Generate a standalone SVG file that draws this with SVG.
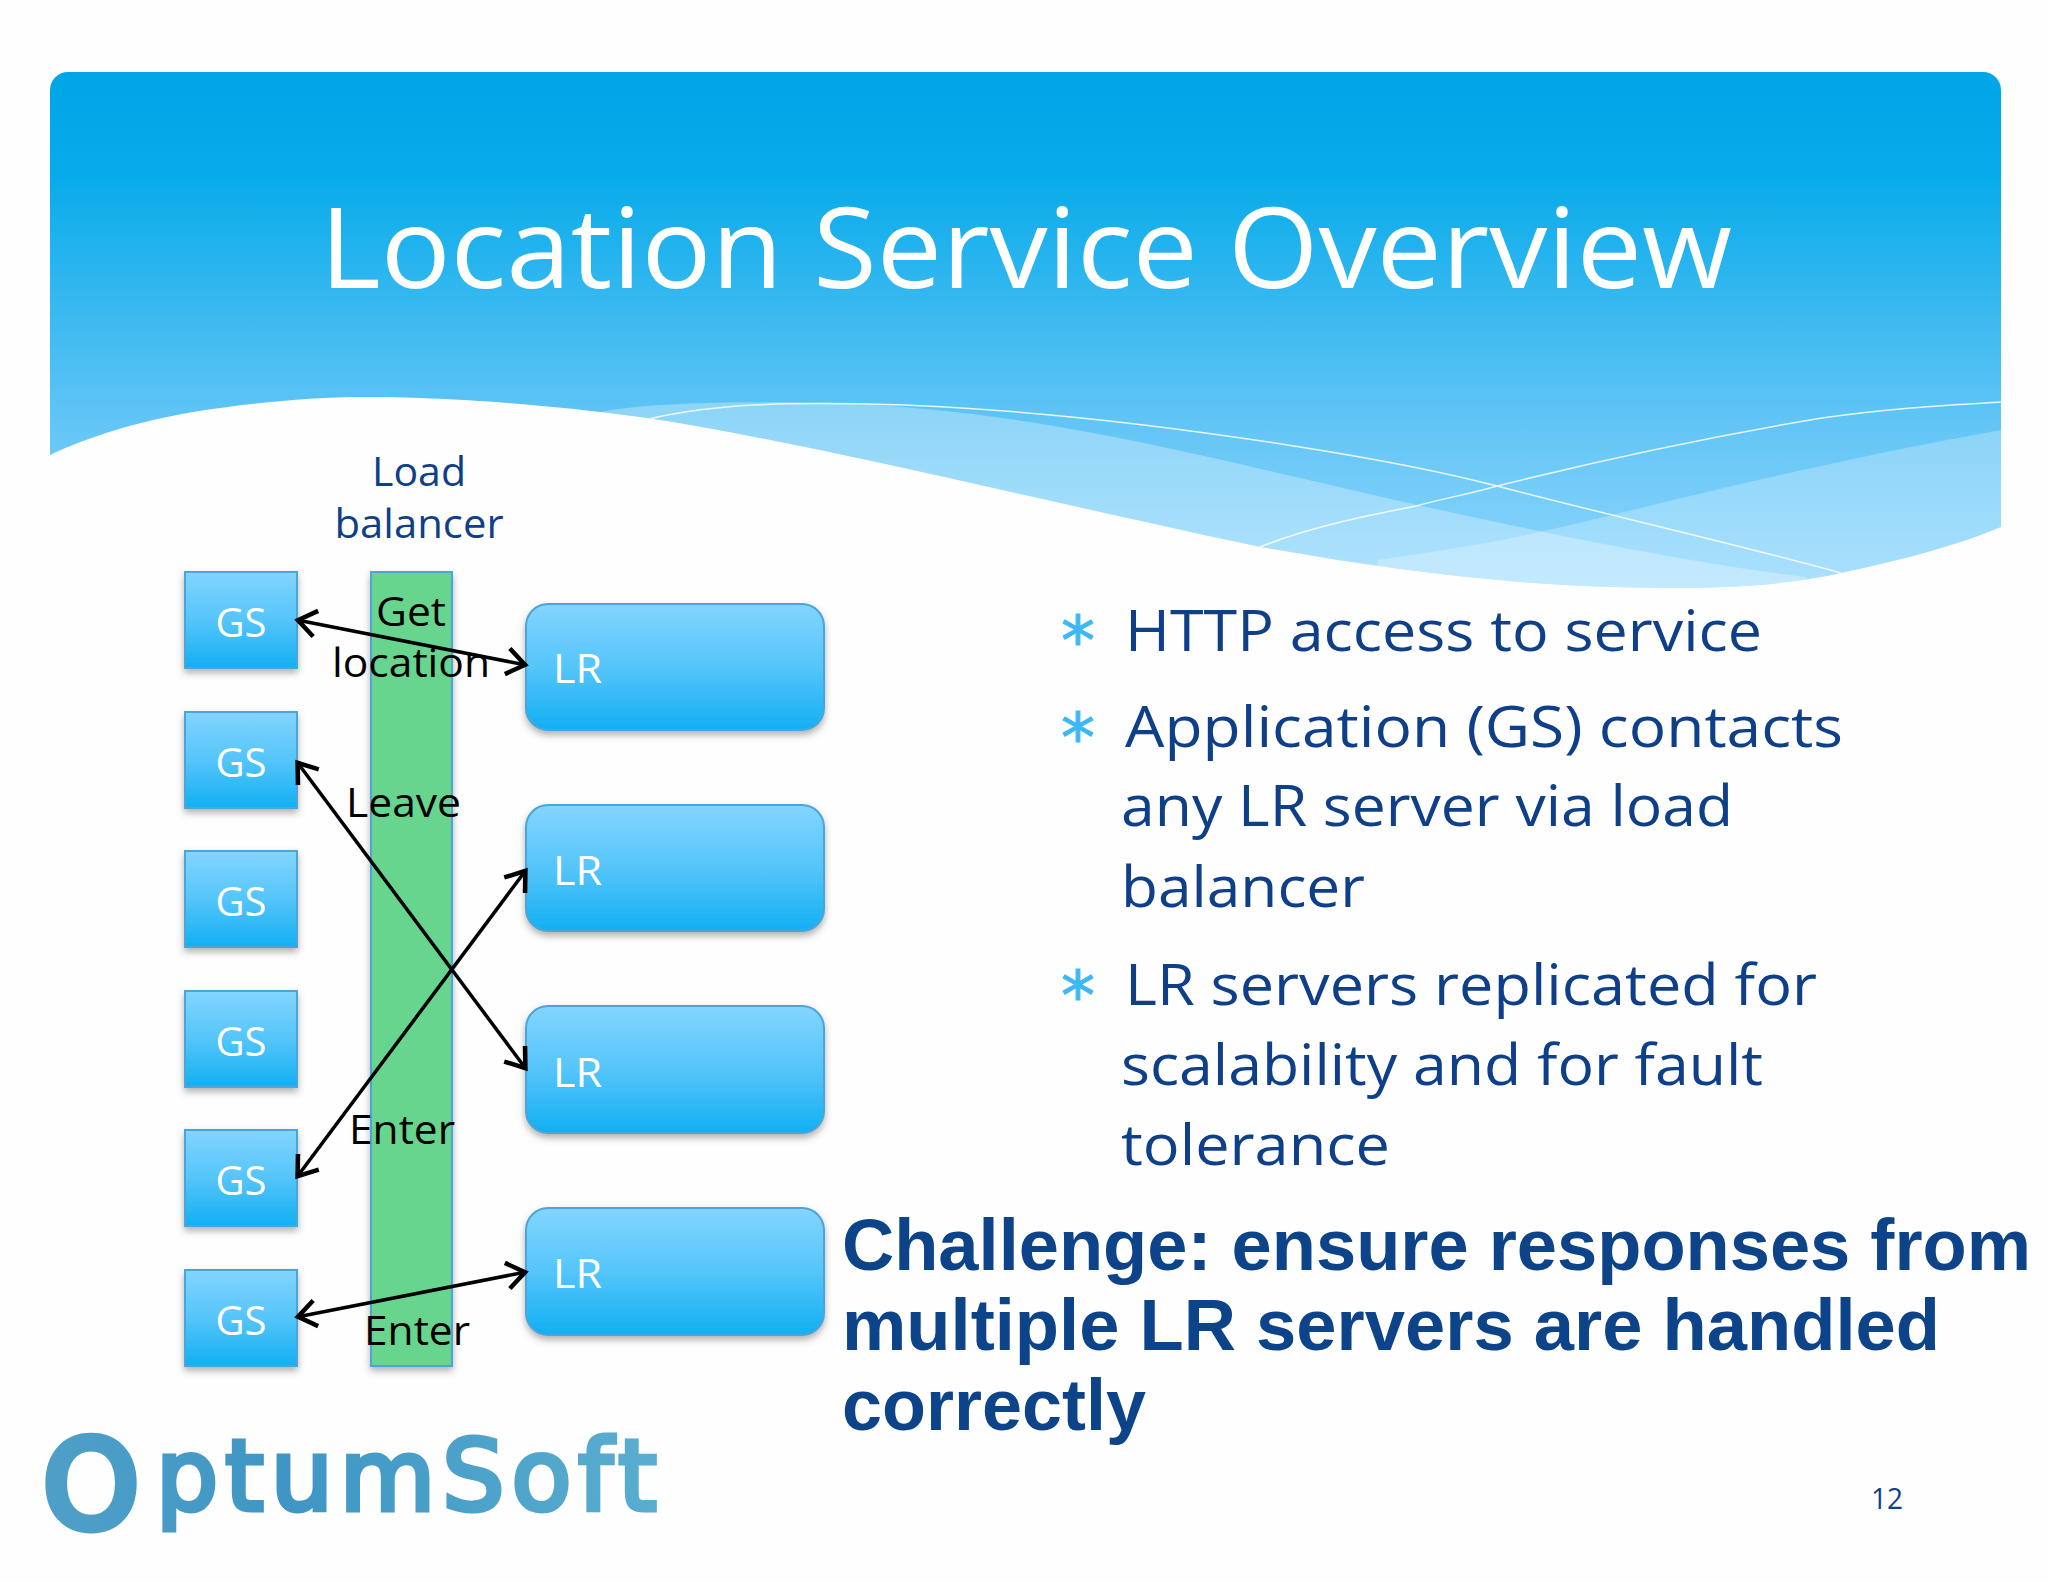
<svg xmlns="http://www.w3.org/2000/svg" width="2048" height="1582" viewBox="0 0 2048 1582">
<defs>
<linearGradient id="hdr" gradientUnits="userSpaceOnUse" x1="0" y1="72" x2="0" y2="590"><stop offset="0" stop-color="#00a5e8"/><stop offset="0.2" stop-color="#08abea"/><stop offset="0.7" stop-color="#66c6f6"/><stop offset="1" stop-color="#8fd7fd"/></linearGradient>
<linearGradient id="box" x1="0" y1="0" x2="0" y2="1"><stop offset="0" stop-color="#83d5ff"/><stop offset="0.5" stop-color="#55c5fa"/><stop offset="1" stop-color="#12aff2"/></linearGradient>
<linearGradient id="logo" gradientUnits="userSpaceOnUse" x1="46" y1="1533" x2="657" y2="1434"><stop offset="0" stop-color="#4fa0c8"/><stop offset="0.4" stop-color="#3f96c4"/><stop offset="1" stop-color="#5aaecf"/></linearGradient>
<filter id="sh" x="-10%" y="-10%" width="120%" height="125%"><feDropShadow dx="0" dy="4" stdDeviation="3.5" flood-color="#555" flood-opacity="0.45"/></filter>
<path id="hp" d="M50 90A18 18 0 0 1 68 72H1983A18 18 0 0 1 2001 90V527C1950 548 1900 560 1841 573C1800 582 1750 588 1671 588C1530 588 1400 572 1261 547C1060 505 800 440 640 417C530 402 430 397 365 397C310 397 250 403 193 412C140 421 90 436 50 455Z"/>
<clipPath id="hc"><use href="#hp"/></clipPath>
<marker id="ah" markerUnits="userSpaceOnUse" markerWidth="34" markerHeight="34" viewBox="-28 -17 34 34" refX="0" refY="0" orient="auto-start-reverse"><path d="M-19 -13L-1 0L-19 13" fill="none" stroke="#000" stroke-width="4.500"/></marker>
</defs>
<style>
.s{font-family:"Open Sans","Noto Sans","Liberation Sans",sans-serif}
.w{fill:#fff;font-size:40px}
.k{fill:#000;font-size:40px}
.b{fill:#0e3f88;font-size:56px}
.d{fill:#0e3f88;font-size:40px}
.c{font-family:"Liberation Sans",Arial,sans-serif;font-weight:700;font-size:72px;fill:#0d4489}
.st{font-family:"DejaVu Sans",sans-serif;fill:#3db8f5;stroke:#3db8f5;stroke-width:1;font-size:68px}
.n{fill:url(#box);stroke:#4ba5d9;stroke-width:2;filter:url(#sh)}
.cn{fill:none;stroke:#000;stroke-width:3.500;marker-start:url(#ah);marker-end:url(#ah)}
.lf{fill:none;stroke:#fff;stroke-width:1.500;stroke-opacity:.85}
</style>
<rect width="2048" height="1582" fill="#fefefe"/>
<g id="header">
<use href="#hp" fill="url(#hdr)"/>
<g clip-path="url(#hc)">
<path d="M600 412C650 402 740 401 840 403C1000 410 1130 438 1300 478C1500 525 1680 562 1806 577V620H600Z" fill="#fff" fill-opacity="0.3"/>
<path d="M1378 560C1430 552 1480 545 1535 533C1640 510 1780 470 2001 430V620H1378Z" fill="#fff" fill-opacity="0.25"/>
<path class="lf" d="M649 419C720 402 800 403 868 404C1000 407 1150 423 1300 447C1370 458 1435 470 1497 486C1620 518 1740 545 1841 573"/>
<path class="lf" d="M1260 547C1310 527 1365 516 1416 506C1445 498 1470 494 1497 486C1610 458 1720 435 1822 418C1890 408 1950 405 2001 402"/>
</g>
<text class="s" x="320" y="288" font-size="112" fill="#fff" textLength="1412" lengthAdjust="spacingAndGlyphs">Location Service Overview</text>
</g>
<g id="load-balancer">
<rect x="371" y="572" width="81" height="794" fill="#68d58e" stroke="#4ba5d9" stroke-width="2" filter="url(#sh)"/>
<text class="s d" x="419" y="486" text-anchor="middle" textLength="94" lengthAdjust="spacingAndGlyphs">Load</text>
<text class="s d" x="419" y="538" text-anchor="middle" textLength="169" lengthAdjust="spacingAndGlyphs">balancer</text>
</g>
<g id="gs1"><rect class="n" x="185" y="572" width="112" height="96"/><text class="s w" x="241" y="637" text-anchor="middle" textLength="51" lengthAdjust="spacingAndGlyphs">GS</text></g>
<g id="gs2"><rect class="n" x="185" y="712" width="112" height="96"/><text class="s w" x="241" y="777" text-anchor="middle" textLength="51" lengthAdjust="spacingAndGlyphs">GS</text></g>
<g id="gs3"><rect class="n" x="185" y="851" width="112" height="96"/><text class="s w" x="241" y="916" text-anchor="middle" textLength="51" lengthAdjust="spacingAndGlyphs">GS</text></g>
<g id="gs4"><rect class="n" x="185" y="991" width="112" height="96"/><text class="s w" x="241" y="1056" text-anchor="middle" textLength="51" lengthAdjust="spacingAndGlyphs">GS</text></g>
<g id="gs5"><rect class="n" x="185" y="1130" width="112" height="96"/><text class="s w" x="241" y="1195" text-anchor="middle" textLength="51" lengthAdjust="spacingAndGlyphs">GS</text></g>
<g id="gs6"><rect class="n" x="185" y="1270" width="112" height="96"/><text class="s w" x="241" y="1335" text-anchor="middle" textLength="51" lengthAdjust="spacingAndGlyphs">GS</text></g>
<g id="lr1"><rect class="n" x="526" y="604" width="298" height="126" rx="22"/><text class="s w" x="553" y="683" textLength="49" lengthAdjust="spacingAndGlyphs">LR</text></g>
<g id="lr2"><rect class="n" x="526" y="805" width="298" height="126" rx="22"/><text class="s w" x="553" y="885" textLength="49" lengthAdjust="spacingAndGlyphs">LR</text></g>
<g id="lr3"><rect class="n" x="526" y="1006" width="298" height="127" rx="22"/><text class="s w" x="553" y="1087" textLength="49" lengthAdjust="spacingAndGlyphs">LR</text></g>
<g id="lr4"><rect class="n" x="526" y="1208" width="298" height="127" rx="22"/><text class="s w" x="553" y="1288" textLength="49" lengthAdjust="spacingAndGlyphs">LR</text></g>
<g id="labels">
<text class="s k" x="411" y="626" text-anchor="middle" textLength="70" lengthAdjust="spacingAndGlyphs">Get</text>
<text class="s k" x="411" y="677" text-anchor="middle" textLength="158" lengthAdjust="spacingAndGlyphs">location</text>
<text class="s k" x="403.500" y="817" text-anchor="middle" textLength="115" lengthAdjust="spacingAndGlyphs">Leave</text>
<text class="s k" x="402" y="1144" text-anchor="middle" textLength="106" lengthAdjust="spacingAndGlyphs">Enter</text>
<text class="s k" x="417" y="1345" text-anchor="middle" textLength="106" lengthAdjust="spacingAndGlyphs">Enter</text>
</g>
<g id="connectors">
<line class="cn" x1="297" y1="620" x2="526" y2="665"/>
<line class="cn" x1="297" y1="762" x2="526" y2="1069"/>
<line class="cn" x1="526" y1="870" x2="297" y2="1177"/>
<line class="cn" x1="297" y1="1317" x2="526" y2="1272"/>
</g>
<g id="bullets">
<text class="st" x="1078" y="664" text-anchor="middle">*</text>
<text class="st" x="1078" y="761" text-anchor="middle">*</text>
<text class="st" x="1078" y="1019" text-anchor="middle">*</text>
<text class="s b" x="1125" y="651" textLength="637" lengthAdjust="spacingAndGlyphs">HTTP access to service</text>
<text class="s b" x="1125" y="747" textLength="718" lengthAdjust="spacingAndGlyphs">Application (GS) contacts</text>
<text class="s b" x="1121" y="826" textLength="612" lengthAdjust="spacingAndGlyphs">any LR server via load</text>
<text class="s b" x="1121" y="907" textLength="244" lengthAdjust="spacingAndGlyphs">balancer</text>
<text class="s b" x="1125" y="1005" textLength="692" lengthAdjust="spacingAndGlyphs">LR servers replicated for</text>
<text class="s b" x="1121" y="1085" textLength="642" lengthAdjust="spacingAndGlyphs">scalability and for fault</text>
<text class="s b" x="1121" y="1165" textLength="269" lengthAdjust="spacingAndGlyphs">tolerance</text>
</g>
<g id="challenge">
<text class="c" x="842" y="1270" textLength="1189" lengthAdjust="spacingAndGlyphs">Challenge: ensure responses from</text>
<text class="c" x="842" y="1350" textLength="1098" lengthAdjust="spacingAndGlyphs">multiple LR servers are handled</text>
<text class="c" x="842" y="1430" textLength="304" lengthAdjust="spacingAndGlyphs">correctly</text>
</g>
<text id="page" class="s" x="1871" y="1509" font-size="29" fill="#0e3f88" textLength="32" lengthAdjust="spacingAndGlyphs">12</text>
<g id="logo-mark">
<text font-family="DejaVu Sans, sans-serif" fill="url(#logo)" stroke="url(#logo)"><tspan x="43" y="1527" font-size="122" stroke-width="9">O</tspan><tspan x="156" y="1510" font-size="98" stroke-width="5" letter-spacing="7">ptumSoft</tspan></text>
</g>
</svg>
